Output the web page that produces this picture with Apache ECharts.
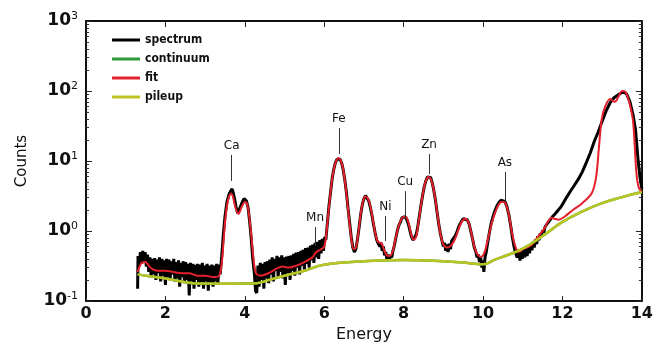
<!DOCTYPE html>
<html>
<head>
<meta charset="utf-8">
<script src="https://cdn.jsdelivr.net/npm/echarts@6/dist/echarts.min.js"></script>
<style>
  html, body { margin: 0; padding: 0; background: #fff; }
  #main { width: 656px; height: 350px; }
</style>
</head>
<body>
<div id="main"></div>
<script>
// measured spectrum [energy, counts], noisy where the picture is noisy
var spectrum = [
  [1.30,0.15],[1.31,0.44],[1.34,0.31],[1.37,0.50],[1.40,0.34],[1.43,0.52],[1.46,0.37],[1.49,0.50],[1.52,0.31],[1.55,0.46],
  [1.58,0.26],[1.61,0.42],[1.64,0.22],[1.67,0.40],[1.70,0.24],[1.73,0.41],[1.76,0.20],[1.79,0.39],[1.82,0.25],[1.85,0.42],
  [1.88,0.19],[1.91,0.40],[1.94,0.23],[1.97,0.38],[2.00,0.17],[2.03,0.40],[2.06,0.22],[2.09,0.39],[2.12,0.20],[2.15,0.37],
  [2.18,0.24],[2.21,0.40],[2.24,0.19],[2.27,0.36],[2.30,0.21],[2.33,0.38],[2.36,0.16],[2.39,0.35],[2.42,0.22],[2.45,0.37],
  [2.48,0.18],[2.51,0.36],[2.54,0.20],[2.57,0.34],[2.60,0.12],[2.63,0.35],[2.66,0.19],[2.69,0.34],[2.72,0.15],[2.75,0.33],
  [2.78,0.20],[2.81,0.34],[2.84,0.16],[2.87,0.33],[2.90,0.18],[2.93,0.35],[2.96,0.15],[2.99,0.32],[3.02,0.19],[3.05,0.34],
  [3.08,0.14],[3.11,0.32],[3.14,0.18],[3.17,0.33],[3.20,0.16],[3.23,0.32],[3.26,0.19],[3.29,0.34],[3.32,0.17],[3.35,0.33],
  [3.38,0.24],[3.42,0.45],[3.46,0.9],[3.50,1.6],[3.55,2.6],[3.60,3.3],[3.64,3.7],[3.68,4.0],[3.71,3.5],[3.74,2.9],
  [3.78,2.2],[3.82,1.8],[3.86,1.9],[3.90,2.3],[3.94,2.6],[3.98,2.9],[4.01,3.0],[4.04,2.7],[4.08,2.2],[4.12,1.4],
  [4.16,0.8],[4.20,0.4],[4.24,0.25],[4.27,0.14],
  [4.30,0.13],[4.33,0.32],[4.36,0.16],[4.39,0.35],[4.42,0.20],[4.45,0.34],[4.48,0.15],[4.51,0.36],[4.54,0.21],[4.57,0.37],
  [4.60,0.18],[4.63,0.39],[4.66,0.24],[4.69,0.42],[4.72,0.19],[4.75,0.40],[4.78,0.27],[4.81,0.44],[4.84,0.22],[4.87,0.42],
  [4.90,0.26],[4.93,0.45],[4.96,0.21],[4.99,0.42],[5.02,0.17],[5.05,0.43],[5.08,0.25],[5.11,0.44],[5.14,0.20],[5.17,0.45],
  [5.20,0.27],[5.23,0.47],[5.26,0.23],[5.29,0.49],[5.32,0.30],[5.35,0.50],[5.38,0.24],[5.41,0.52],[5.44,0.32],[5.47,0.54],
  [5.50,0.28],[5.53,0.57],[5.56,0.34],[5.59,0.58],[5.62,0.30],[5.65,0.62],[5.68,0.38],[5.71,0.64],[5.74,0.35],[5.77,0.68],
  [5.80,0.42],[5.83,0.70],[5.86,0.40],[5.89,0.74],[5.92,0.48],[5.95,0.77],[5.98,0.52],[6.01,0.82],[6.04,0.75],
  [6.08,1.3],[6.12,2.3],[6.16,3.6],[6.20,5.6],[6.24,7.6],[6.28,9.4],[6.32,10.6],[6.36,11.2],[6.40,10.6],[6.44,9.3],
  [6.48,7.4],[6.52,5.3],[6.56,3.5],[6.60,2.1],[6.64,1.3],[6.68,0.82],[6.72,0.58],[6.76,0.5],[6.80,0.56],[6.84,0.78],
  [6.88,1.15],[6.92,1.75],[6.96,2.4],[7.00,2.9],[7.04,3.2],[7.08,3.0],[7.12,2.7],[7.16,2.2],[7.20,1.7],[7.24,1.25],
  [7.28,0.95],[7.32,0.75],[7.36,0.66],[7.40,0.6],[7.43,0.68],[7.46,0.52],[7.49,0.6],[7.52,0.45],[7.55,0.5],[7.58,0.39],
  [7.61,0.46],[7.64,0.38],[7.67,0.45],[7.70,0.42],[7.73,0.52],[7.76,0.6],[7.80,0.78],[7.84,1.0],[7.88,1.2],[7.92,1.35],
  [7.96,1.55],[8.00,1.65],[8.04,1.6],[8.08,1.45],[8.12,1.25],[8.16,1.0],[8.20,0.82],[8.24,0.74],[8.28,0.76],[8.32,0.9],
  [8.36,1.2],[8.40,1.7],[8.44,2.4],[8.48,3.3],[8.52,4.3],[8.56,5.2],[8.60,5.9],[8.64,6.2],[8.68,5.8],[8.72,4.9],
  [8.76,3.8],[8.80,2.8],[8.84,1.9],[8.88,1.3],[8.92,0.95],[8.96,0.75],[9.00,0.6],[9.03,0.68],[9.06,0.52],[9.09,0.64],
  [9.12,0.5],[9.15,0.66],[9.18,0.55],[9.21,0.72],[9.25,0.75],[9.30,0.85],[9.35,1.0],[9.40,1.2],[9.45,1.35],[9.50,1.5],
  [9.55,1.55],[9.60,1.45],[9.65,1.25],[9.70,0.95],[9.74,0.75],[9.78,0.58],[9.82,0.5],[9.85,0.42],[9.88,0.46],[9.91,0.36],
  [9.94,0.42],[9.97,0.3],[10.00,0.38],[10.02,0.26],[10.05,0.42],[10.08,0.5],[10.12,0.7],[10.16,0.95],[10.20,1.25],[10.25,1.6],
  [10.30,1.95],[10.35,2.3],[10.40,2.55],[10.45,2.75],[10.50,2.8],[10.55,2.65],[10.60,2.25],[10.65,1.7],[10.70,1.15],[10.74,0.8],
  [10.78,0.6],[10.82,0.48],[10.86,0.42],[10.90,0.5],[10.93,0.38],[10.96,0.5],[10.99,0.4],[11.02,0.55],[11.05,0.42],[11.08,0.56],
  [11.11,0.44],[11.14,0.6],[11.17,0.48],[11.20,0.64],[11.23,0.53],[11.26,0.7],[11.29,0.58],[11.32,0.76],[11.35,0.65],[11.38,0.84],
  [11.41,0.74],[11.44,0.92],[11.47,0.84],[11.50,1.02],[11.53,0.95],[11.56,1.14],[11.59,1.08],[11.62,1.28],[11.65,1.22],[11.68,1.42],
  [11.71,1.38],[11.74,1.58],[11.77,1.55],[11.80,1.72],[11.84,1.78],[11.88,1.95],[11.92,2.05],[11.96,2.2],[12.00,2.4],[12.10,3.0],
  [12.20,3.7],[12.30,4.5],[12.40,5.5],[12.50,7.0],[12.60,9.5],[12.70,13],[12.80,19],[12.90,26],[13.00,37],[13.10,52],
  [13.20,68],[13.30,80],[13.40,88],[13.50,95],[13.56,96],[13.62,90],[13.70,70],[13.78,45],[13.84,28],[13.90,11],
  [13.95,6],[14.00,4]
];

// fitted model
var fit = [
  [1.30,0.26],[1.40,0.35],[1.50,0.36],[1.60,0.31],[1.70,0.28],[1.80,0.27],[2.00,0.27],[2.20,0.26],[2.40,0.25],[2.60,0.25],
  [2.80,0.23],[3.00,0.23],[3.20,0.22],[3.35,0.23],[3.42,0.35],[3.47,0.8],[3.52,1.7],[3.58,2.8],[3.65,3.4],[3.70,3.1],
  [3.76,2.2],[3.84,1.75],[3.92,2.2],[4.00,2.6],[4.05,2.5],[4.10,1.8],[4.16,0.9],[4.22,0.4],[4.28,0.25],[4.40,0.23],
  [4.60,0.25],[4.80,0.29],[4.95,0.31],[5.10,0.30],[5.30,0.32],[5.50,0.36],[5.70,0.42],[5.80,0.50],[5.90,0.54],[6.00,0.6],
  [6.05,0.9],[6.10,1.7],[6.15,3.2],[6.20,5.5],[6.25,8.0],[6.30,10.0],[6.36,11.0],[6.42,10.0],[6.48,7.5],[6.55,3.8],
  [6.62,1.6],[6.68,0.8],[6.74,0.55],[6.80,0.58],[6.86,0.95],[6.92,1.8],[6.98,2.7],[7.04,3.1],[7.10,2.9],[7.16,2.3],
  [7.22,1.5],[7.28,0.95],[7.34,0.72],[7.40,0.68],[7.45,0.66],[7.50,0.55],[7.56,0.46],[7.62,0.44],[7.68,0.45],[7.74,0.55],
  [7.80,0.80],[7.88,1.2],[7.95,1.5],[8.02,1.6],[8.08,1.55],[8.14,1.2],[8.20,0.85],[8.26,0.75],[8.32,0.85],[8.38,1.4],
  [8.44,2.4],[8.50,3.8],[8.56,5.2],[8.62,5.9],[8.68,5.6],[8.74,4.3],[8.80,2.8],[8.86,1.6],[8.92,0.95],[8.98,0.68],
  [9.04,0.60],[9.10,0.58],[9.16,0.60],[9.22,0.65],[9.30,0.78],[9.38,1.05],[9.46,1.35],[9.54,1.5],[9.60,1.45],[9.66,1.2],
  [9.72,0.85],[9.78,0.6],[9.84,0.48],[9.90,0.44],[9.96,0.43],[10.02,0.47],[10.08,0.60],[10.14,0.85],[10.22,1.3],[10.30,1.8],
  [10.38,2.3],[10.46,2.6],[10.53,2.6],[10.60,2.2],[10.66,1.6],[10.72,1.0],[10.78,0.7],[10.84,0.55],[10.90,0.50],[11.00,0.55],
  [11.20,0.62],[11.40,0.85],[11.55,1.1],[11.65,1.4],[11.72,1.55],[11.80,1.5],[11.90,1.45],[12.05,1.6],[12.24,1.95],[12.50,2.5],
  [12.74,3.5],[12.85,6],[12.92,16],[12.99,40],[13.08,61],[13.20,77],[13.32,70],[13.42,85],[13.50,100],[13.58,98],
  [13.68,70],[13.78,36],[13.86,7],[13.92,4.2],[14.00,3.6]
];

// pile-up background
var pileup = [
  [1.3,0.24],[1.6,0.225],[2.0,0.21],[2.4,0.19],[2.7,0.18],[3.0,0.178],[3.5,0.177],[4.0,0.178],[4.3,0.18],[4.6,0.2],
  [5.0,0.23],[5.5,0.27],[5.8,0.31],[6.0,0.33],[6.5,0.355],[7.0,0.37],[7.5,0.38],[8.0,0.385],[8.5,0.38],[9.0,0.37],
  [9.5,0.355],[9.8,0.34],[10.0,0.335],[10.3,0.39],[10.6,0.45],[11.0,0.56],[11.5,0.85],[12.0,1.35],[12.5,1.9],[13.0,2.5],
  [13.5,3.05],[14.0,3.6]
];
// continuum sits under the pile-up curve
var continuum = pileup;

// element markers
var elementNames = ['Ca', 'Mn', 'Fe', 'Ni', 'Cu', 'Zn', 'As'];
var elementEnergy = [3.67, 5.77, 6.37, 7.54, 8.04, 8.64, 10.55];
var markerLow = [5.2, 0.61, 12.6, 0.72, 1.48, 6.5, 2.7];
var markerHigh = [12.2, 1.14, 29.6, 1.64, 3.7, 12.6, 7.0];

var minorY = [0.2,0.3,0.4,0.5,0.6,0.7,0.8,0.9, 2,3,4,5,6,7,8,9, 20,30,40,50,60,70,80,90, 200,300,400,500,600,700,800,900];

var chart = echarts.init(document.getElementById('main'));

var markers = elementNames.map(function (n, i) {
  return [
    { coord: [elementEnergy[i], markerLow[i]] },
    { coord: [elementEnergy[i], markerHigh[i]], name: n }
  ];
});

// log axis carrying the data and the decade ticks
function logAxis(pos) {
  return {
    type: 'log', logBase: 10, min: 0.1, max: 1000, position: pos,
    axisLine: { onZero: false, lineStyle: { color: '#111', width: 2 } },
    axisTick: { inside: true, length: 6, lineStyle: { color: '#222' } },
    axisLabel: { show: false },
    splitLine: { show: false }
  };
}
// overlay axis in decades, only used to place the minor log ticks
function minorAxis(pos) {
  return {
    type: 'value', min: -1, max: 3, position: pos,
    axisLine: { show: false, onZero: false },
    axisTick: { inside: true, length: 3, lineStyle: { color: '#333' }, customValues: minorY.map(Math.log10) },
    axisLabel: { show: false },
    splitLine: { show: false }
  };
}

var left = logAxis('left');
left.name = 'Counts';
left.nameLocation = 'middle';
left.nameGap = 56;
left.nameTextStyle = { fontFamily: 'DejaVu Sans', fontSize: 15, color: '#111' };
left.axisLabel = {
  show: true, margin: 8,
  formatter: function (v) {
    return '{b|10}{s|' + Math.round(Math.log10(v)) + '}';
  },
  rich: {
    b: { fontFamily: 'DejaVu Sans', fontWeight: 'bold', fontSize: 17, color: '#111' },
    s: { fontFamily: 'DejaVu Sans', fontSize: 11, color: '#111', verticalAlign: 'top', padding: [0, 0, 10, 0] }
  }
};

var option = {
  animation: false,
  grid: { left: 86, right: 13, top: 21, bottom: 49 },
  legend: {
    orient: 'vertical', left: 107, top: 29, itemGap: 7,
    icon: 'rect', itemWidth: 28, itemHeight: 3,
    data: ['spectrum', 'continuum', 'fit', 'pileup'],
    textStyle: { fontFamily: 'DejaVu Sans Condensed', fontWeight: 'bold', fontSize: 12, color: '#111' }
  },
  xAxis: [
    {
      type: 'value', min: 0, max: 14, interval: 2, position: 'bottom',
      name: 'Energy', nameLocation: 'middle', nameGap: 24,
      nameTextStyle: { fontFamily: 'DejaVu Sans', fontSize: 16, color: '#111' },
      axisLine: { onZero: false, lineStyle: { color: '#111', width: 2 } },
      axisTick: { inside: true, length: 5, lineStyle: { color: '#222' } },
      axisLabel: { margin: 5, fontFamily: 'DejaVu Sans', fontWeight: 'bold', fontSize: 16, color: '#111' },
      splitLine: { show: false }
    },
    {
      type: 'value', min: 0, max: 14, interval: 2, position: 'top',
      axisLine: { onZero: false, lineStyle: { color: '#111', width: 2 } },
      axisTick: { inside: true, length: 6, lineStyle: { color: '#222' } },
      axisLabel: { show: false },
      splitLine: { show: false }
    }
  ],
  yAxis: [left, minorAxis('left'), logAxis('right'), minorAxis('right')],
  series: [
    {
      name: 'spectrum', type: 'line', data: spectrum, showSymbol: false,
      color: '#000', lineStyle: { color: '#000', width: 3 }
    },
    {
      name: 'continuum', type: 'line', data: continuum, showSymbol: false, smooth: true,
      color: '#2e9a3a', lineStyle: { color: '#2e9a3a', width: 2.5 }
    },
    {
      name: 'fit', type: 'line', data: fit, showSymbol: false, smooth: 0.3,
      color: '#e3202c', lineStyle: { color: '#e3202c', width: 2 },
      markLine: {
        silent: true, symbol: 'none', animation: false,
        lineStyle: { color: '#333', width: 1, type: 'solid' },
        label: { position: 'end', distance: 3, formatter: '{b}', fontFamily: 'DejaVu Sans', fontSize: 12, color: '#111' },
        data: markers
      }
    },
    {
      name: 'pileup', type: 'line', data: pileup, showSymbol: false, smooth: true,
      color: '#bcc424', lineStyle: { color: '#bcc424', width: 2.5 }
    }
  ]
};

chart.setOption(option);
</script>
</body>
</html>
